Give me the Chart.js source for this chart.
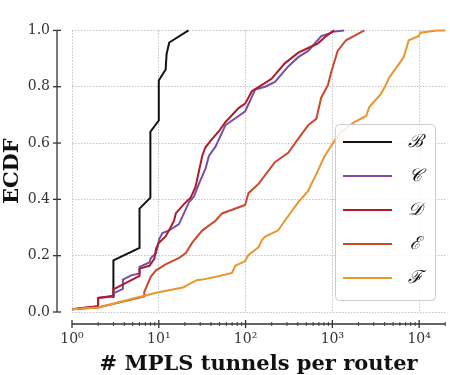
<!DOCTYPE html>
<html>
<head>
<meta charset="utf-8">
<script src="https://cdn.jsdelivr.net/npm/chart.js@4.4.1/dist/chart.umd.min.js"></script>
<style>
html,body{margin:0;padding:0;background:#fff;}
#wrap{width:450px;height:375px;position:relative;}
</style>
</head>
<body>
<div id="wrap"><canvas id="c" width="450" height="375"></canvas></div>
<script>
// ---- data ----
const seriesNames = ['\u212C', '\uD835\uDC9E', '\uD835\uDC9F', '\u2130', '\u2131'];
const seriesColors = ['#111111', '#7b4ea6', '#b01a2a', '#cc4a2c', '#eb952d'];

const bX = [3, 3, 6, 6, 8, 8, 10, 10, 12, 12.3, 13.2, 22];
const bY = [0.05, 0.183, 0.228, 0.367, 0.406, 0.64, 0.68, 0.822, 0.861, 0.916, 0.957, 1.0];

const cX = [1, 2, 2, 3, 3, 3.86, 3.86, 4.8, 6, 6, 7.8, 8.1, 9.3, 10.1, 11, 13.2, 17.1, 22.3, 25.4, 29, 34.6, 37.8, 45, 58.5, 70, 99, 129, 168, 218, 310, 405, 527, 745, 890, 1000, 1370];
const cY = [0.01, 0.02, 0.05, 0.055, 0.066, 0.082, 0.115, 0.13, 0.137, 0.16, 0.176, 0.192, 0.209, 0.258, 0.28, 0.29, 0.312, 0.39, 0.41, 0.455, 0.51, 0.554, 0.587, 0.663, 0.68, 0.713, 0.79, 0.8, 0.817, 0.872, 0.905, 0.927, 0.98, 0.987, 0.995, 1.0];

const dX = [1, 2, 2, 3, 3, 6, 6, 7.8, 8.9, 9.3, 10, 12.1, 15, 15.7, 19.6, 23.3, 26.5, 29, 31.7, 34.5, 41, 49, 58.5, 83, 99, 118, 153, 199, 283, 405, 527, 684, 815, 1050];
const dY = [0.01, 0.02, 0.05, 0.058, 0.08, 0.128, 0.154, 0.164, 0.19, 0.225, 0.245, 0.27, 0.324, 0.35, 0.384, 0.406, 0.444, 0.5, 0.555, 0.585, 0.614, 0.641, 0.674, 0.724, 0.74, 0.784, 0.806, 0.828, 0.883, 0.921, 0.9375, 0.954, 0.976, 1.0];

const eX = [1, 2, 6.8, 6.8, 8.1, 9.3, 12.1, 17.2, 20.5, 24.4, 31.8, 45, 53.5, 95, 99, 108, 141, 218, 310, 369, 438, 527, 653, 745, 890, 967, 1150, 1435, 2340];
const eY = [0.01, 0.016, 0.055, 0.071, 0.126, 0.148, 0.17, 0.192, 0.209, 0.247, 0.29, 0.324, 0.35, 0.378, 0.381, 0.422, 0.455, 0.532, 0.565, 0.598, 0.63, 0.663, 0.686, 0.762, 0.806, 0.85, 0.927, 0.965, 1.0];

const fX = [1, 2, 6.8, 9.6, 13.1, 19.4, 22.3, 27.5, 31.6, 50, 69.7, 76, 99, 108, 141, 154, 168, 238, 283, 405, 527, 573, 625, 815, 1150, 1220, 1790, 2450, 2670, 3600, 4130, 4540, 5600, 6650, 7600, 9900, 10300, 16000, 20000];
const fY = [0.01, 0.016, 0.058, 0.069, 0.077, 0.088, 0.099, 0.113, 0.115, 0.128, 0.139, 0.164, 0.181, 0.203, 0.23, 0.255, 0.268, 0.29, 0.324, 0.39, 0.43, 0.455, 0.477, 0.554, 0.625, 0.636, 0.674, 0.696, 0.729, 0.773, 0.806, 0.834, 0.872, 0.905, 0.965, 0.98, 0.992, 1.0, 1.0];

const xTickValues = [1, 10, 100, 1000, 10000];
const xTickLabels = ['10\u2070', '10\u00B9', '10\u00B2', '10\u00B3', '10\u2074'];
const yTickValues = [0, 0.2, 0.4, 0.6, 0.8, 1.0];
const yTickLabels = ['0.0', '0.2', '0.4', '0.6', '0.8', '1.0'];

// ---- build ----
const allX = [bX, cX, dX, eX, fX];
const allY = [bY, cY, dY, eY, fY];
const datasets = allX.map((xs, i) => ({
  label: seriesNames[i],
  data: xs.map((x, j) => ({x: x, y: allY[i][j]})),
  borderColor: seriesColors[i],
  backgroundColor: seriesColors[i],
  borderWidth: 2,
  pointRadius: 0,
  tension: 0,
  fill: false,
  clip: false,
  order: 4 - i
}));

const SERIF = "'DejaVu Serif', 'Liberation Serif', serif";
const SPINE_X = 57, SPINE_Y = 324;

const spinePlugin = {
  id: 'spines',
  afterDraw(chart) {
    const ctx = chart.ctx, xs = chart.scales.x, ys = chart.scales.y;
    ctx.save();
    ctx.strokeStyle = '#333333';
    ctx.lineWidth = 1.3;
    ctx.lineCap = 'butt';
    // y spine
    ctx.beginPath();
    ctx.moveTo(SPINE_X, ys.getPixelForValue(1));
    ctx.lineTo(SPINE_X, ys.getPixelForValue(0));
    ctx.stroke();
    yTickValues.forEach(v => {
      const p = ys.getPixelForValue(v);
      ctx.beginPath(); ctx.moveTo(SPINE_X - 4, p); ctx.lineTo(SPINE_X + 4, p); ctx.stroke();
    });
    // x spine
    ctx.beginPath();
    ctx.moveTo(xs.getPixelForValue(1), SPINE_Y);
    ctx.lineTo(xs.right, SPINE_Y);
    ctx.stroke();
    xTickValues.forEach(v => {
      const p = xs.getPixelForValue(v);
      ctx.beginPath(); ctx.moveTo(p, SPINE_Y - 4); ctx.lineTo(p, SPINE_Y + 4); ctx.stroke();
    });
    ctx.lineWidth = 0.9;
    for (let d = 1; d <= 10000; d *= 10) {
      for (let k = 2; k <= 9; k++) {
        const v = k * d;
        if (v > xs.max) break;
        const p = xs.getPixelForValue(v);
        ctx.beginPath(); ctx.moveTo(p, SPINE_Y - 2); ctx.lineTo(p, SPINE_Y + 2); ctx.stroke();
      }
    }
    // legend
    const lx = 335, ly = 124, lw = 100, lh = 176;
    ctx.beginPath();
    ctx.roundRect(lx + 0.5, ly + 0.5, lw, lh, 4);
    ctx.fillStyle = 'rgba(255,255,255,0.85)';
    ctx.fill();
    ctx.strokeStyle = '#cccccc';
    ctx.lineWidth = 1;
    ctx.stroke();
    chart.data.datasets.forEach((ds, i) => {
      const yy = 142 + i * 34;
      ctx.strokeStyle = ds.borderColor;
      ctx.lineWidth = 2;
      ctx.beginPath(); ctx.moveTo(343, yy); ctx.lineTo(392, yy); ctx.stroke();
      ctx.fillStyle = '#111';
      ctx.font = "italic 18px " + SERIF;
      ctx.textAlign = 'center';
      ctx.textBaseline = 'middle';
      ctx.fillText(ds.label, 415, yy);
    });
    ctx.restore();
  }
};

new Chart(document.getElementById('c'), {
  type: 'line',
  data: { datasets: datasets },
  plugins: [spinePlugin],
  options: {
    responsive: false,
    animation: false,
    events: [],
    layout: { padding: { left: 0, right: 2, top: 7, bottom: 0 } },
    plugins: { legend: { display: false }, tooltip: { enabled: false } },
    scales: {
      x: {
        type: 'logarithmic',
        min: 1, max: 20000,
        afterBuildTicks: s => { s.ticks = xTickValues.map(v => ({value: v})); },
        afterFit: s => { s.height = 63; },
        grid: { color: '#bdbdbd', lineWidth: 0.9, drawTicks: false },
        border: { display: false, dash: [1.5, 1.5] },
        ticks: {
          padding: 19,
          color: '#333',
          font: { family: SERIF, size: 14 },
          maxRotation: 0,
          autoSkip: false,
          callback: (v, i) => xTickLabels[i]
        },
        title: {
          display: true,
          text: '# MPLS tunnels per router',
          color: '#111',
          font: { family: SERIF, size: 21, weight: 'bold', lineHeight: 1 },
          padding: { top: 0, bottom: 0 }
        }
      },
      y: {
        type: 'linear',
        min: 0, max: 1,
        afterBuildTicks: s => { s.ticks = yTickValues.map(v => ({value: v})); },
        afterFit: s => { s.width = 72; },
        grid: { color: '#bdbdbd', lineWidth: 0.9, drawTicks: false },
        border: { display: false, dash: [1.5, 1.5] },
        ticks: {
          padding: 22,
          color: '#333',
          font: { family: SERIF, size: 14 },
          callback: (v, i) => yTickLabels[i]
        },
        title: {
          display: true,
          text: 'ECDF',
          color: '#111',
          font: { family: SERIF, size: 21, weight: 'bold', lineHeight: 1 },
          padding: { top: 2, bottom: 0 }
        }
      }
    }
  }
});
</script>
</body>
</html>
